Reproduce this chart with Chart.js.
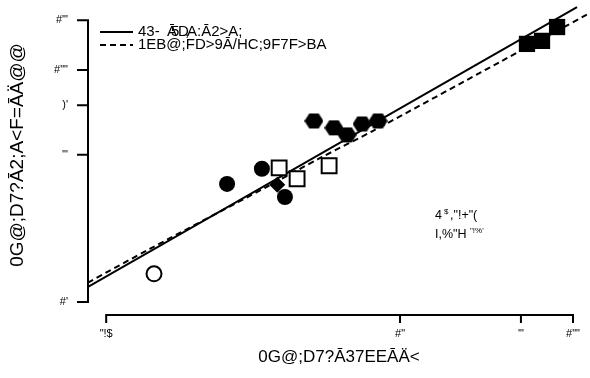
<!DOCTYPE html>
<html><head><meta charset="utf-8">
<script src="https://cdn.jsdelivr.net/npm/chart.js@4/dist/chart.umd.min.js"></script>
<style>html,body{margin:0;padding:0;background:#fff}#wrap{width:590px;height:378px}</style>
</head><body><div id="wrap"><canvas id="c" width="590" height="378"></canvas></div>
<script>
// ---- data ----
const xTicks = [0.2, 10, 50, 100];
const xTickLabels = ['"!$', '#"', '\'"', '#""'];
const yTicks = [15, 50, 75, 100, 150];
const yTickLabels = ["#'", "'\"", ")'", '#""', "#'\""];
const xTitle = '0G@;D7?Ā37EEĀÄ<';
const yTitle = '0G@;D7?Ā2;A<F=ĀÄ@@';
const legendDashed = '1EB@;FD>9Ā/HC;9F7F>BA';

const circlesX = [1.0, 1.59, 2.16];
const circlesY = [39.4, 44.6, 35.4];
const openCircleX = [0.378];
const openCircleY = [18.9];
const diamondX = [1.95];
const diamondY = [39.1];
const openSquaresX = [2.0, 2.54, 3.89];
const openSquaresY = [44.9, 41.1, 45.7];
const hexX = [3.18, 4.15, 4.94, 6.03, 7.46];
const hexY = [65.9, 62.3, 58.8, 64.3, 65.9];
const squaresX = [54.2, 66.2, 80.9];
const squaresY = [123.7, 126.8, 142];
const solidX = [0.157, 105.5];
const solidY = [17.0, 167.2];
const dashedX = [0.157, 0.359, 1.70, 3.45, 6.98, 37.8, 125.4];
const dashedY = [17.6, 23.2, 38.5, 48.7, 60.8, 106.7, 159.3];

const pts = (xs, ys) => xs.map((x, i) => ({x, y: ys[i]}));

// hexagon marker
const hex = document.createElement('canvas');
hex.width = 19; hex.height = 17;
(function(){
  const g = hex.getContext('2d');
  const cx = 9.5, cy = 8.5, r = 9.5;
  g.beginPath();
  for (let k = 0; k < 6; k++) {
    const a = k * Math.PI / 3;
    const px = cx + r * Math.cos(a), py = cy + r * Math.sin(a) * 0.9;
    k ? g.lineTo(px, py) : g.moveTo(px, py);
  }
  g.closePath(); g.fillStyle = '#000'; g.fill();
})();

const FONT = '"Liberation Sans", Arial, sans-serif';

const rAxes = {
  id: 'rAxes',
  afterDraw(chart) {
    const ctx = chart.ctx, xs = chart.scales.x, ys = chart.scales.y, a = chart.chartArea;
    ctx.save();
    ctx.strokeStyle = '#000'; ctx.fillStyle = '#000'; ctx.lineWidth = 2; ctx.lineCap = 'square';
    // x axis
    const xb = a.bottom;
    const px = xTicks.map(v => xs.getPixelForValue(v));
    ctx.beginPath();
    ctx.moveTo(px[0], xb); ctx.lineTo(px[px.length - 1], xb);
    px.forEach(p => { ctx.moveTo(p, xb); ctx.lineTo(p, xb + 7); });
    ctx.stroke();
    ctx.font = '11px ' + FONT; ctx.textAlign = 'center'; ctx.textBaseline = 'middle';
    px.forEach((p, i) => ctx.fillText(xTickLabels[i], p, 334));
    // y axis
    const yl = a.left;
    const py = yTicks.map(v => ys.getPixelForValue(v));
    ctx.beginPath();
    ctx.moveTo(yl, py[0]); ctx.lineTo(yl, py[py.length - 1]);
    py.forEach(p => { ctx.moveTo(yl, p); ctx.lineTo(yl - 10, p); });
    ctx.stroke();
    ctx.textAlign = 'right';
    py.forEach((p, i) => ctx.fillText(yTickLabels[i], 68, p));
    // titles
    ctx.font = '17px ' + FONT; ctx.textAlign = 'center';
    ctx.fillText(xTitle, 339, 357);
    ctx.font = '19px ' + FONT;
    ctx.save(); ctx.translate(18, 155); ctx.rotate(-Math.PI / 2);
    ctx.fillText(yTitle, 0, 0); ctx.restore();
    // legend
    ctx.lineWidth = 2; ctx.lineCap = 'butt';
    ctx.beginPath(); ctx.moveTo(100, 32); ctx.lineTo(133, 32); ctx.stroke();
    ctx.setLineDash([6, 4]);
    ctx.beginPath(); ctx.moveTo(100, 45); ctx.lineTo(133, 45); ctx.stroke();
    ctx.setLineDash([]);
    ctx.font = '15px ' + FONT; ctx.textAlign = 'left';
    ctx.fillText('43-', 138, 32);
    ctx.fillText('Ā', 167, 32);
    ctx.fillText('5', 171, 32);
    ctx.fillText('D', 178, 32);
    ctx.fillText(',', 185, 32);
    ctx.fillText('A:Ā2>A;', 187, 32);
    ctx.fillText(legendDashed, 138, 45);
    // annotation
    ctx.font = '12.5px ' + FONT;
    ctx.fillText('4', 435, 216);
    ctx.font = '8px ' + FONT; ctx.fillText('$', 444, 212);
    ctx.font = '12.5px ' + FONT; ctx.fillText(',"!+"(', 450, 216);
    ctx.fillText('I,%"H', 435, 235);
    ctx.font = '8px ' + FONT; ctx.fillText('"!%\'', 470, 231);
    ctx.restore();
  }
};

new Chart(document.getElementById('c'), {
  type: 'scatter',
  data: {
    datasets: [
      {data: pts(solidX, solidY), showLine: true, borderColor: '#000', borderWidth: 2, pointRadius: 0, order: 10},
      {data: pts(dashedX, dashedY), showLine: true, borderColor: '#000', borderWidth: 2, borderDash: [6, 4], pointRadius: 0, tension: 0.3, order: 9},
      {data: pts(circlesX, circlesY), pointStyle: 'circle', pointRadius: 8, backgroundColor: '#000', borderColor: '#000', borderWidth: 0, order: 1},
      {data: pts(openCircleX, openCircleY), pointStyle: 'circle', pointRadius: 7.5, backgroundColor: '#fff', borderColor: '#000', borderWidth: 2, order: 1},
      {data: pts(diamondX, diamondY), pointStyle: 'rectRot', pointRadius: 8, backgroundColor: '#000', borderColor: '#000', borderWidth: 0, order: 2},
      {data: pts(openSquaresX, openSquaresY), pointStyle: 'rect', pointRadius: 10.5, backgroundColor: '#fff', borderColor: '#000', borderWidth: 2, order: 1},
      {data: pts(hexX, hexY), pointStyle: hex, pointRadius: 8, backgroundColor: '#000', order: 1},
      {data: pts(squaresX, squaresY), pointStyle: 'rect', pointRadius: 11.5, backgroundColor: '#000', borderColor: '#000', borderWidth: 0, order: 1}
    ]
  },
  options: {
    responsive: false, animation: false,
    layout: {autoPadding: false, padding: {left: 88, top: 5, right: 0, bottom: 63}},
    scales: {
      x: {type: 'logarithmic', min: 0.157, max: 125.4, display: false},
      y: {type: 'logarithmic', min: 13.5, max: 170, display: false}
    },
    plugins: {legend: {display: false}, tooltip: {enabled: false}},
    elements: {point: {hoverRadius: 0}}
  },
  plugins: [rAxes]
});
</script>
</body></html>
